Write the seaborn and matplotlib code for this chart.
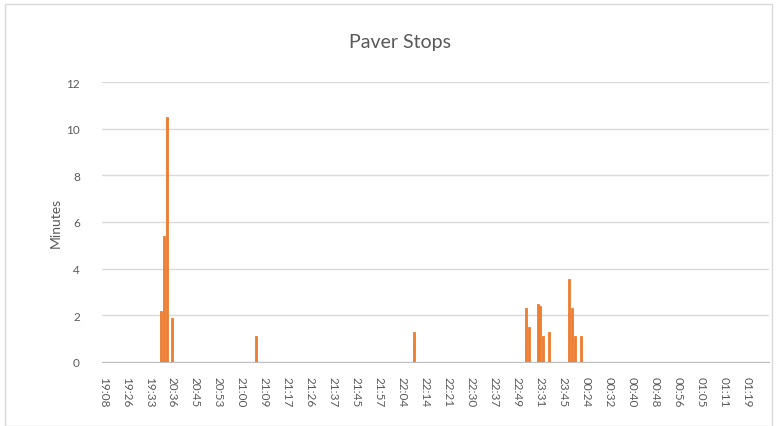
import numpy as np
import pandas as pd
import seaborn as sns
from matplotlib import pyplot as plt
from matplotlib.patches import Rectangle

# category slots on the time axis (one per logged row), labels shown every 8th slot
n_slots = 232
tick_labels = ["19:08", "19:26", "19:33", "20:36", "20:45", "20:53", "21:00", "21:09",
               "21:17", "21:26", "21:37", "21:45", "21:57", "22:04", "22:14", "22:21",
               "22:30", "22:37", "22:49", "23:31", "23:45", "00:24", "00:32", "00:40",
               "00:48", "00:56", "01:05", "01:11", "01:19"]

# slots that had a stop, and the stop length in minutes
stop_slots = [20, 21, 22, 24, 53, 108, 147, 148, 151, 152, 153, 155, 162, 163, 164, 166]
stop_minutes = [2.2, 5.4, 10.5, 1.9, 1.1, 1.3, 2.3, 1.5, 2.5, 2.4, 1.1, 1.3, 3.55, 2.3, 1.1, 1.1]

minutes = np.zeros(n_slots)
minutes[stop_slots] = stop_minutes
df = pd.DataFrame({"slot": np.arange(n_slots), "minutes": minutes})

sns.set_style("white")
plt.rcParams["font.family"] = ["Lato", "DejaVu Sans"]
grey = "#595959"
orange = "#ED7D31"

fig = plt.figure(figsize=(7.76, 4.27), dpi=100)
ax = fig.add_axes([102 / 776, 64 / 427, 667 / 776, 280 / 427])

sns.barplot(data=df, x="slot", y="minutes", color=orange, saturation=1,
            width=0.7, order=list(range(n_slots)), ax=ax, zorder=3,
            edgecolor=orange, linewidth=0.6)

ax.set_xlim(-0.5, n_slots - 0.5)
ax.set_ylim(0, 12)
ax.set_yticks(range(0, 13, 2))
ax.yaxis.grid(True, color="#d9d9d9", linewidth=1, zorder=0)
ax.set_axisbelow(True)

ax.set_xticks(range(0, n_slots, 8))
ax.set_xticklabels(tick_labels, rotation=-90, fontsize=8.5, color=grey)
ax.tick_params(axis="x", length=0, pad=10)
ax.tick_params(axis="y", length=0, pad=16, labelsize=8.5, labelcolor=grey)

for s in ["top", "right", "left"]:
    ax.spines[s].set_visible(False)
ax.spines["bottom"].set_color("#bfbfbf")

ax.set_xlabel("")
ax.set_ylabel("Minutes", fontsize=10, color=grey, labelpad=3)
fig.text(0.516, 0.9, "Paver Stops", ha="center", va="center", fontsize=14, color=grey)

fig.patches.append(Rectangle((5 / 776, 0), 767 / 776, 422 / 427, transform=fig.transFigure,
                             fill=False, edgecolor="#d9d9d9", linewidth=1))

fig.savefig("out.png", dpi=100)
